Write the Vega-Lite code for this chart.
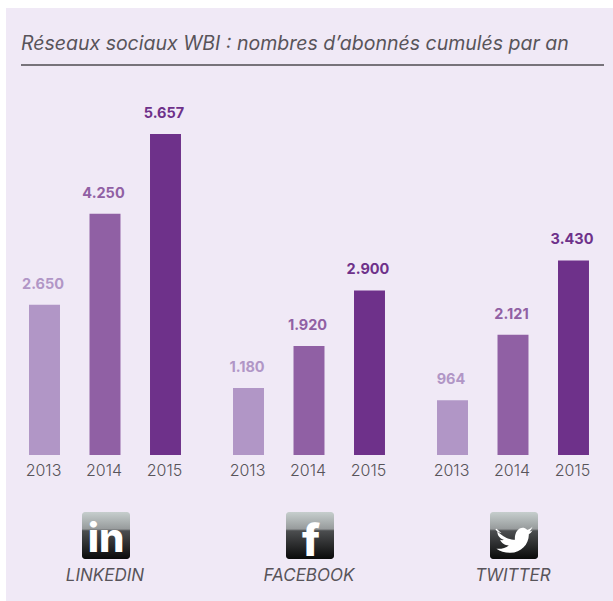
{
"$schema":"https://vega.github.io/schema/vega-lite/v6.json",
"width":607,"height":593,
"autosize":{"type":"none"},
"padding":{"left":6,"top":8,"right":0,"bottom":0},
"background":"white",
"view":{"fill":"#f0e9f6","stroke":null},
"title":{"text":"Réseaux sociaux WBI : nombres d’abonnés cumulés par an","anchor":"start","frame":"group","orient":"top","baseline":"middle","offset":-35,"dy":20,"dx":15,"font":"Inter","fontSize":19.5,"fontStyle":"italic","fontWeight":"normal","color":"#58545a"},
"datasets":{
"bars":[
{"platform":"LINKEDIN","year":"2013","value":2650,"label":"2.650"},
{"platform":"LINKEDIN","year":"2014","value":4250,"label":"4.250"},
{"platform":"LINKEDIN","year":"2015","value":5657,"label":"5.657"},
{"platform":"FACEBOOK","year":"2013","value":1180,"label":"1.180"},
{"platform":"FACEBOOK","year":"2014","value":1920,"label":"1.920"},
{"platform":"FACEBOOK","year":"2015","value":2900,"label":"2.900"},
{"platform":"TWITTER","year":"2013","value":964,"label":"964"},
{"platform":"TWITTER","year":"2014","value":2121,"label":"2.121"},
{"platform":"TWITTER","year":"2015","value":3430,"label":"3.430"}],
"platforms":[
{"platform":"LINKEDIN"},
{"platform":"FACEBOOK"},
{"platform":"TWITTER"}]
},
"encoding":{
"x":{"field":"platform","type":"nominal","axis":null,"sort":null,"scale":{"domain":["LINKEDIN","FACEBOOK","TWITTER"],"range":[-3,609],"paddingInner":0,"paddingOuter":0}}
},
"layer":[
{"data":{"values":[{"rule":"title"}]},"mark":{"type":"rule","color":"#4f4b50","strokeWidth":1.5},
 "encoding":{"x":{"value":15},"x2":{"value":598},"y":{"datum":6873,"type":"quantitative","axis":null,"scale":{"domain":[-2573,7878],"nice":false,"zero":false}}}},
{"data":{"name":"bars"},"mark":{"type":"bar"},
 "encoding":{
  "xOffset":{"field":"year","type":"nominal","scale":{"paddingInner":0.488,"paddingOuter":0.43}},
  "y":{"field":"value","type":"quantitative","stack":null,"axis":null,"scale":{"domain":[-2573,7878],"nice":false,"zero":false}},
  "y2":{"datum":0},
  "color":{"field":"year","type":"nominal","legend":null,"scale":{"domain":["2013","2014","2015"],"range":["#b196c6","#9060a4","#6e318a"]}}}},
{"data":{"name":"bars"},"mark":{"type":"text","font":"Inter","fontSize":14.5,"fontWeight":"bold","baseline":"middle","dy":-20,"dx":-1.5},
 "encoding":{
  "xOffset":{"field":"year","type":"nominal","scale":{"paddingInner":0.488,"paddingOuter":0.43}},
  "y":{"field":"value","type":"quantitative","stack":null},
  "text":{"field":"label"},
  "color":{"field":"year","type":"nominal","legend":null}}},
{"data":{"name":"bars"},"mark":{"type":"text","font":"Inter","fontSize":16,"fontWeight":300,"baseline":"middle","color":"#58545a","dx":-1},
 "encoding":{
  "xOffset":{"field":"year","type":"nominal","scale":{"paddingInner":0.488,"paddingOuter":0.43}},
  "y":{"datum":-282},
  "text":{"field":"year"}}},
{"data":{"name":"platforms"},"mark":{"type":"bar","width":48,"xOffset":1,"cornerRadius":3,"fill":{"gradient":"linear","x1":0,"y1":0,"x2":0,"y2":1,"stops":[{"offset":0,"color":"#c6cecd"},{"offset":0.36,"color":"#979b9c"},{"offset":0.4,"color":"#4c4e50"},{"offset":1,"color":"#0a0a0a"}]}},
 "encoding":{"y":{"datum":-1005},"y2":{"datum":-1833}}},
{"data":{"values":[{"platform":"LINKEDIN","glyph":"in"}]},"mark":{"type":"text","font":"Inter","fontSize":40,"fontWeight":800,"color":"white","baseline":"alphabetic","dx":1},
 "encoding":{"y":{"datum":-1710},"text":{"field":"glyph"}}},
{"data":{"values":[{"platform":"FACEBOOK","glyph":"f"}]},"mark":{"type":"text","font":"Inter","fontSize":44,"fontWeight":800,"color":"white","baseline":"alphabetic","dx":2},
 "encoding":{"y":{"datum":-1780},"text":{"field":"glyph"}}},
{"data":{"values":[{"platform":"TWITTER"}]},"mark":{"type":"point","filled":true,"opacity":1,"color":"white","xOffset":1,"shape":"M-1,-0.45 C-0.6,-0.05 -0.25,0.1 0.05,0.1 C0,-0.4 0.4,-0.75 0.72,-0.45 C0.85,-0.47 0.95,-0.55 1,-0.62 C0.96,-0.5 0.92,-0.42 0.84,-0.36 C0.92,-0.37 0.97,-0.4 1,-0.42 C0.95,-0.32 0.88,-0.25 0.8,-0.2 C0.82,0.3 0.4,0.8 -0.2,0.8 C-0.5,0.8 -0.75,0.72 -0.95,0.58 C-0.7,0.6 -0.45,0.55 -0.28,0.4 C-0.5,0.4 -0.68,0.28 -0.75,0.1 C-0.68,0.12 -0.6,0.12 -0.55,0.1 C-0.78,0.03 -0.9,-0.15 -0.9,-0.35 C-0.82,-0.3 -0.75,-0.28 -0.68,-0.28 C-0.88,-0.4 -0.95,-0.6 -1,-0.45 Z","size":1370},
 "encoding":{"y":{"datum":-1463}}},
{"data":{"name":"platforms"},"mark":{"type":"text","font":"Inter","fontSize":17,"fontStyle":"italic","fontWeight":400,"baseline":"middle","color":"#58545a"},
 "encoding":{"y":{"datum":-2132},"text":{"field":"platform"}}}
]
}
